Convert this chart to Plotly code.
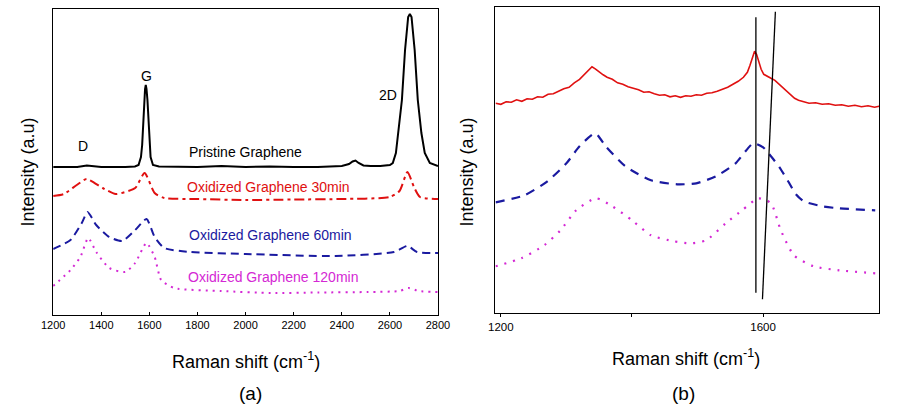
import plotly.graph_objects as go

# ---------------- Panel (a) data ----------------
pristine_x = [1200, 1300, 1340, 1400, 1500, 1540, 1555, 1565, 1570, 1575, 1578, 1582, 1585, 1588, 1592, 1595,
              1600, 1605, 1615, 1640, 1800, 1900, 2000, 2100, 2200, 2300, 2400, 2430, 2445, 2457, 2470, 2490,
              2520, 2560, 2600, 2612, 2625, 2635, 2650, 2663, 2676, 2683, 2690, 2703, 2716, 2731, 2745, 2766, 2800]
pristine_y = [148, 148, 149.5, 148, 148, 148.5, 150, 158, 170, 200, 215, 226, 230, 226, 215, 200,
              170, 158, 150, 148.5, 148, 149, 148, 148.5, 148, 148, 149, 151, 153.5, 154.5, 152, 149.5,
              149, 149, 150, 152, 162, 182, 215, 265, 298, 301, 298, 265, 215, 182, 162, 152, 149]

ox30_x = [1200, 1244, 1298, 1339, 1406, 1460, 1541, 1580, 1622, 1662, 1800, 2000, 2200, 2400, 2600, 2640,
          2673, 2700, 2725, 2800]
ox30_y = [119, 121, 130, 136, 127, 121, 127, 142, 122, 117, 116, 115, 115.5, 116, 118, 124,
          143, 128, 118, 116]

ox60_x = [1200, 1272, 1319, 1343, 1379, 1433, 1487, 1541, 1588, 1622, 1662, 1770, 2000, 2375, 2617,
          2673, 2713, 2800]
ox60_y = [66, 75, 92, 103, 90, 78, 74, 85, 96, 78, 67, 63, 61, 59, 63, 69, 63, 62]

ox120_x = [1200, 1272, 1313, 1346, 1379, 1433, 1500, 1541, 1588, 1622, 1649, 1703, 1900, 2106, 2300,
           2510, 2640, 2678, 2720, 2800]
ox120_y = [29, 45, 58, 77, 63, 47, 43, 52, 72, 58, 35, 27, 24, 22, 22.5, 23, 24, 27, 24, 23]

# ---------------- Panel (b) data ----------------
b_red_x = [1192, 1200, 1208, 1216, 1224, 1232, 1240, 1248, 1256, 1264, 1272, 1280, 1288, 1296, 1304, 1312,
           1320, 1328, 1334, 1339, 1344, 1350, 1356, 1362, 1370, 1378, 1386, 1394, 1402, 1410, 1418, 1426,
           1434, 1442, 1450, 1458, 1466, 1474, 1482, 1490, 1498, 1506, 1514, 1522, 1530, 1538, 1546, 1554,
           1562, 1570, 1576, 1580, 1584, 1587, 1590, 1593, 1597, 1601, 1606, 1612, 1618, 1624, 1630, 1636,
           1642, 1648, 1654, 1662, 1670, 1680, 1690, 1700, 1710, 1720, 1730, 1740, 1750, 1760, 1770, 1777]
b_red_y = [210, 209, 211.5, 211, 213.5, 212, 214.5, 214, 216.5, 216, 219, 219.5, 222, 224.5, 226, 230.5,
           234, 239, 243, 246.5, 244.5, 241, 238.5, 236, 234, 230.5, 229, 226.5, 225, 223.5, 221, 221.5,
           219.5, 218, 218.5, 216.5, 217.5, 216, 217.5, 217, 218.5, 218, 220, 220.5, 222, 224, 226, 229,
           232, 236, 241, 248, 256, 262, 259, 252, 244, 239, 237.5, 235, 233, 229.5, 226, 222,
           218, 215, 213, 211.5, 210, 210.5, 209, 209.5, 208, 208.5, 207, 208, 206.5, 207.5, 206, 207]

b_blue_x = [1192, 1236, 1271, 1300, 1320, 1344, 1360, 1390, 1429, 1469, 1498, 1528, 1558, 1585, 1600,
            1612, 1625, 1640, 1650, 1662, 1690, 1716, 1771]
b_blue_y = [111, 118, 132, 150, 167, 180, 167, 147, 133, 129, 130, 137, 150, 170, 166,
            157, 146, 130, 119, 112, 107, 105, 103]

b_mag_x = [1192, 1231, 1266, 1291, 1315, 1345, 1370, 1400, 1429, 1464, 1489, 1513, 1543, 1568, 1593,
           1612, 1627, 1647, 1677, 1716, 1771]
b_mag_y = [47, 55, 68, 83, 103, 115, 107, 93, 78, 72, 70, 73, 90, 103, 115,
           110, 83, 58, 47, 43, 40]

# guide lines in panel (b)
guide1_x = [1589, 1589]
guide1_y = [20.6, 296]
guide2_x = [1599, 1618.7]
guide2_y = [14, 301.6]

# tick labels
a_ticks = [1200, 1400, 1600, 1800, 2000, 2200, 2400, 2600, 2800]
a_ticklabels = [str(t) for t in a_ticks]
b_ticks = [1200, 1600]
b_ticklabels = ["1200", "1600"]
b_minor_ticks = [1400]

RED = "#e01010"
BLUE = "#1a1aa0"
MAG = "#d428d4"
FONT = "Liberation Sans, Arial, sans-serif"

fig = go.Figure()

# Panel (a)
fig.add_trace(go.Scatter(x=pristine_x, y=pristine_y, mode="lines", line=dict(color="black", width=2),
                         xaxis="x", yaxis="y"))
fig.add_trace(go.Scatter(x=ox30_x, y=ox30_y, mode="lines",
                         line=dict(color=RED, width=2, dash="10px,4px,3px,4px", shape="spline", smoothing=0.6),
                         xaxis="x", yaxis="y"))
fig.add_trace(go.Scatter(x=ox60_x, y=ox60_y, mode="lines",
                         line=dict(color=BLUE, width=2, dash="8px,5px", shape="spline", smoothing=0.6),
                         xaxis="x", yaxis="y"))
fig.add_trace(go.Scatter(x=ox120_x, y=ox120_y, mode="lines",
                         line=dict(color=MAG, width=2, dash="2px,5px", shape="spline", smoothing=0.6),
                         xaxis="x", yaxis="y"))

# Panel (b)
fig.add_trace(go.Scatter(x=b_red_x, y=b_red_y, mode="lines", line=dict(color=RED, width=1.6),
                         xaxis="x2", yaxis="y2"))
fig.add_trace(go.Scatter(x=b_blue_x, y=b_blue_y, mode="lines",
                         line=dict(color=BLUE, width=2.2, dash="9px,7px", shape="spline", smoothing=0.6),
                         xaxis="x2", yaxis="y2"))
fig.add_trace(go.Scatter(x=b_mag_x, y=b_mag_y, mode="lines",
                         line=dict(color=MAG, width=2.2, dash="2px,7px", shape="spline", smoothing=0.6),
                         xaxis="x2", yaxis="y2"))
fig.add_trace(go.Scatter(x=guide1_x, y=guide1_y, mode="lines", line=dict(color="black", width=1.3),
                         xaxis="x2", yaxis="y2"))
fig.add_trace(go.Scatter(x=guide2_x, y=guide2_y, mode="lines", line=dict(color="black", width=1.3),
                         xaxis="x2", yaxis="y2"))

axis_common = dict(showline=True, linecolor="black", linewidth=1.2, mirror=True, showgrid=False,
                   zeroline=False)

fig.update_layout(
    width=897, height=411,
    margin=dict(l=0, r=0, t=0, b=0),
    paper_bgcolor="white", plot_bgcolor="white",
    showlegend=False,
    font=dict(family=FONT, color="black"),
    xaxis=dict(domain=[0.04716, 0.48796], range=[1200, 2800], tickvals=a_ticks, ticktext=a_ticklabels,
               ticks="inside", ticklen=3, tickcolor="black", tickfont=dict(size=11, family=FONT),
               anchor="y", **axis_common),
    yaxis=dict(domain=[0.23358, 0.97810], range=[0, 306], showticklabels=False, ticks="",
               anchor="x", **axis_common),
    xaxis2=dict(domain=[0.55374, 0.99331], range=[1191.7, 1777], tickvals=b_ticks, ticktext=b_ticklabels,
                ticks="outside", ticklen=3, tickcolor="black", tickfont=dict(size=11.5, family=FONT),
                minor=dict(tickvals=b_minor_ticks, ticks="outside", ticklen=3, tickcolor="black"),
                anchor="y2", **axis_common),
    yaxis2=dict(domain=[0.23771, 0.98370], range=[0, 306.6], showticklabels=False, ticks="",
                anchor="x2", **axis_common),
)

ann = []
ann.append(dict(x=1325, y=169, xref="x", yref="y", text="D", showarrow=False, font=dict(size=14, family=FONT, color="black")))
ann.append(dict(x=1588, y=239, xref="x", yref="y", text="G", showarrow=False, font=dict(size=14, family=FONT, color="black")))
ann.append(dict(x=2594, y=220, xref="x", yref="y", text="2D", showarrow=False, font=dict(size=14, family=FONT, color="black")))
ann.append(dict(x=2000, y=163, xref="x", yref="y", text="Pristine Graphene", showarrow=False,
                font=dict(size=14, family=FONT, color="black")))
ann.append(dict(x=2097, y=128, xref="x", yref="y", text="Oxidized Graphene 30min", showarrow=False,
                font=dict(size=14, family=FONT, color=RED)))
ann.append(dict(x=2103, y=80, xref="x", yref="y", text="Oxidized Graphene 60min", showarrow=False,
                font=dict(size=14, family=FONT, color=BLUE)))
ann.append(dict(x=2112, y=38, xref="x", yref="y", text="Oxidized Graphene 120min", showarrow=False,
                font=dict(size=14, family=FONT, color=MAG)))


def px(xp, yp):
    return xp / 897, 1 - yp / 411


for (xp, yp, txt, size, ang) in [
    (240, 360, "Raman shift (cm<sup>-1</sup>)", 18, 0),
    (693, 357, "Raman shift (cm<sup>-1</sup>)", 18, 0),
    (16, 172, "Intensity (a.u)", 18, -90),
    (467, 172, "Intensity (a.u)", 18, -90),
]:
    xx, yy = px(xp, yp)
    ann.append(dict(x=xx, y=yy, xref="paper", yref="paper", text=txt, showarrow=False, textangle=ang,
                    xanchor="center", yanchor="middle", font=dict(size=size, family=FONT, color="black")))

for (xp, yp, txt) in [(245, 393, "(a)"), (690, 393, "(b)")]:
    xx, yy = px(xp, yp)
    ann.append(dict(x=xx, y=yy, xref="paper", yref="paper", text=txt, showarrow=False,
                    xanchor="center", yanchor="middle",
                    font=dict(size=19, family="Liberation Sans Narrow, Liberation Sans, Arial", color="black")))

fig.update_layout(annotations=ann)

fig.write_html("out.html")
